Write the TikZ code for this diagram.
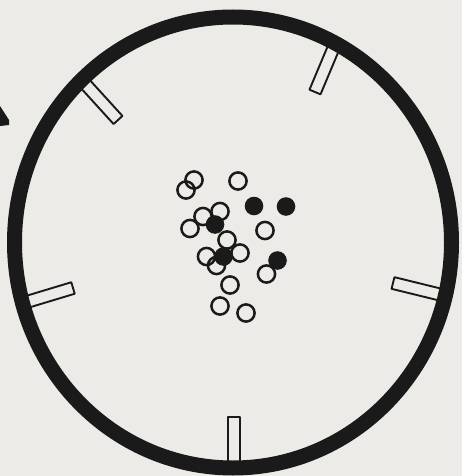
\documentclass[tikz,border=0pt]{standalone}
\usetikzlibrary{calc}
\definecolor{paper}{HTML}{EDEBE7}
\definecolor{ink}{HTML}{1A1A1A}
\tikzset{
  tickbox/.style={draw=ink, line width=1.9pt, fill=paper, line join=round},
  opendot/.style={draw=ink, line width=2.5pt},
  opendotw/.style={draw=ink, line width=2.5pt, fill=paper},
  fulldot/.style={fill=ink},
}
\newcommand{\mytick}[4]{%
  \coordinate (#1a) at #2;
  \coordinate (#1b) at #3;
  \draw[tickbox] ($(#1a)!#4!90:(#1b)$) -- ($(#1b)!#4!-90:(#1a)$) -- ($(#1b)!#4!90:(#1a)$) -- ($(#1a)!#4!-90:(#1b)$) -- cycle;
}
\begin{document}
\begin{tikzpicture}[x=1pt,y=-1pt]
\fill[paper] (0,0) rectangle (462,476);
\useasboundingbox (0,0) rectangle (462,476);
% partial arrow tip at left edge
\fill[ink] (0,106) -- (9,120) -- (9,125) -- (0,126) -- cycle;
% ticks
\mytick{t1}{(336,42)}{(315,92)}{6pt}
\mytick{t2}{(78,76)}{(118,120)}{6pt}
\mytick{t3}{(20,304)}{(73,288)}{6pt}
\mytick{t4}{(450,297)}{(393,283)}{6pt}
\mytick{t5}{(234,464)}{(234,417)}{6pt}
% big ring
\coordinate (c) at (233,242.5);
\draw[ink, line width=15pt] (c) ellipse [x radius=218.5pt, y radius=225.5pt];
% open dots
\foreach \p/\n in {(194,180)/o1,(186,190)/o2,(238,181)/o3,(220,211.5)/o4,(203,216.5)/o5,(190,228.5)/o6,(265,230.5)/o7,(227,240)/o8,(206.5,256.5)/o9,(240,253)/o10,(216.5,265.5)/o11,(230,285)/o12,(220,306)/o13,(246,313)/o14}
  \draw[opendot] \p coordinate (\n) circle [radius=8.6pt];
% filled dots
\foreach \p/\n in {(254,206)/f1,(286,206.5)/f2,(215,224.5)/f3,(223.5,256.5)/f4,(277.5,260.5)/f5}
  \fill[fulldot] \p coordinate (\n) circle [radius=9.3pt];
\draw[opendotw] (266.5,274) coordinate (o15) circle [radius=8.6pt];
\end{tikzpicture}
\end{document}
